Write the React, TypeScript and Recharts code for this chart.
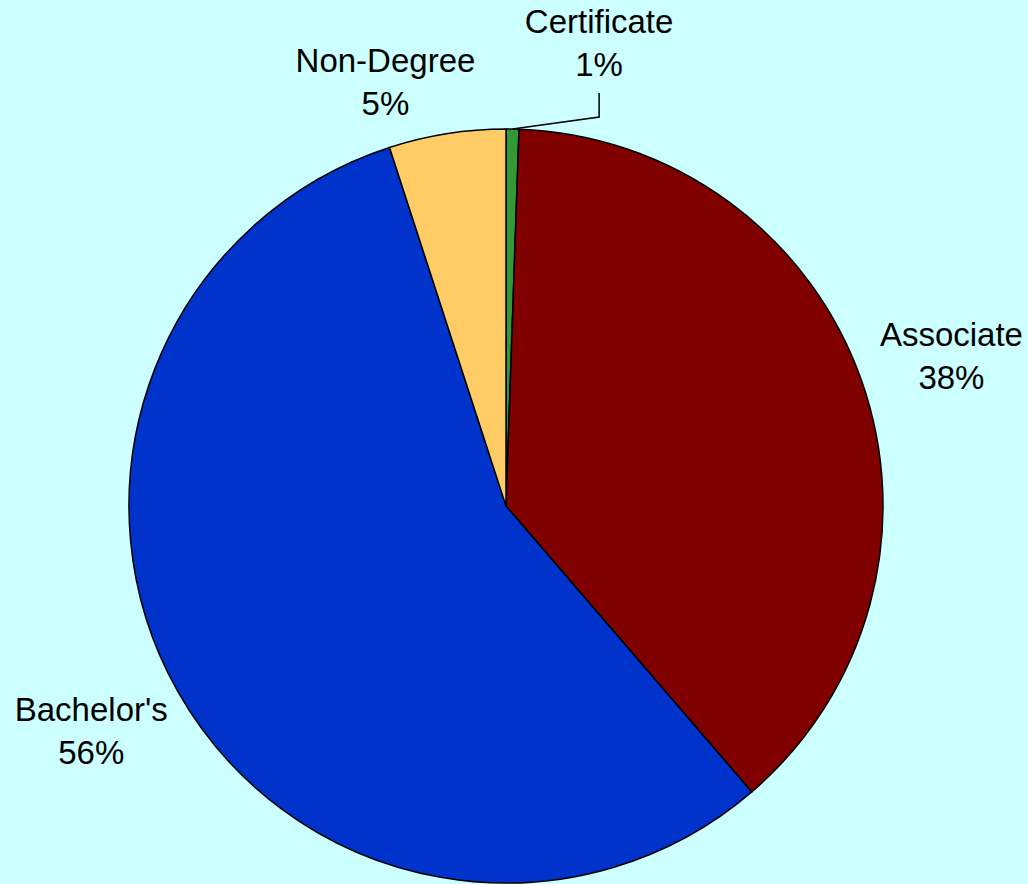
import React from "react";
import { PieChart, Pie, Cell } from "recharts";

const categories = ["Certificate", "Associate", "Bachelor's", "Non-Degree"];
const shares = [0.55, 38.15, 56.3, 5.0];
const colors = ["#339933", "#800000", "#0033CC", "#FFCC66"];

// small nudges where the labels sit off their slice (like Excel's best fit)
const labelNudge: Record<string, [number, number]> = {
    Certificate: [85, 7],
    Associate: [2, 6],
    "Bachelor's": [-5, -5],
    "Non-Degree": [-47, 40],
};

const data = categories.map((name, i) => ({ name, value: shares[i] }));

const RAD = Math.PI / 180;

function SliceLabel(props: any) {
    const { cx, cy, midAngle, outerRadius, percent, name } = props;
    const r = outerRadius + 93;
    const [nx, ny] = labelNudge[name] || [0, 0];
    const x = cx + r * Math.cos(-midAngle * RAD) + nx;
    const y = cy + r * Math.sin(-midAngle * RAD) + ny;
    const pct = Math.round(percent * 100) + "%";

    let leader = null;
    if (name === "Certificate") {
        const ex = cx + outerRadius * Math.cos(-midAngle * RAD);
        const ey = cy + outerRadius * Math.sin(-midAngle * RAD);
        leader = (
            <polyline
                points={`${ex},${ey} ${x},${ey - 12} ${x},${y + 50}`}
                fill="none"
                stroke="#000"
                strokeWidth={1.5}
            />
        );
    }

    return (
        <g>
            {leader}
            <text
                x={x}
                y={y}
                textAnchor="middle"
                fill="#000"
                fontSize={33}
                fontFamily="'Liberation Sans', Arial, sans-serif"
            >
                <tspan x={x} y={y - 10}>{name}</tspan>
                <tspan x={x} y={y + 33}>{pct}</tspan>
            </text>
        </g>
    );
}

export default function App() {
    return (
        <div
            style={{
                position: "absolute",
                left: 0,
                top: 0,
                width: 1028,
                height: 884,
                background: "#CCFFFF",
                overflow: "hidden",
            }}
        >
            <PieChart
                width={1028}
                height={884}
                margin={{ top: 0, right: 0, bottom: 0, left: 0 }}
            >
                <Pie
                    data={data}
                    dataKey="value"
                    nameKey="name"
                    cx={506}
                    cy={506}
                    outerRadius={377}
                    startAngle={90}
                    endAngle={-270}
                    stroke="#000"
                    strokeWidth={1.5}
                    label={SliceLabel}
                    labelLine={false}
                    isAnimationActive={false}
                >
                    {data.map((d, i) => (
                        <Cell key={d.name} fill={colors[i]} />
                    ))}
                </Pie>
            </PieChart>
        </div>
    );
}
